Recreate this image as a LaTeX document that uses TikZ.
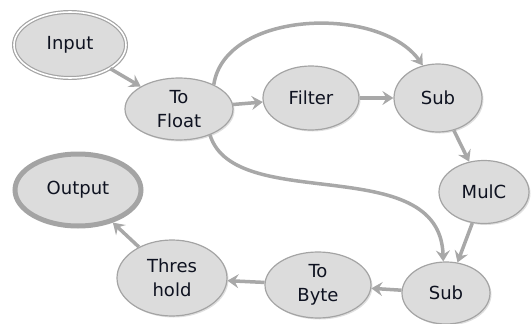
\documentclass[tikz,border=0pt]{standalone}
\usepackage{fontspec}
\setmainfont{DejaVu Sans}
\usetikzlibrary{shapes.geometric,arrows.meta,shadows}
\definecolor{nodefill}{HTML}{DCDCDC}
\definecolor{nodeline}{HTML}{A4A4A4}
\definecolor{edgecol}{HTML}{A8A8A8}
\definecolor{txt}{HTML}{0E1220}
\begin{document}
\begin{tikzpicture}[x=1pt,y=-1pt,
  nd/.style={ellipse,fill=nodefill,draw=nodeline,line width=1.2pt,inner sep=0pt,
    align=center,text=txt,font=\fontsize{18}{24}\selectfont,
    drop shadow={opacity=0.25,shadow xshift=1.5pt,shadow yshift=-1.5pt}},
  inbox/.style={nd,double=white,double distance=1.6pt,line width=1.2pt},
  outbox/.style={nd,line width=5pt},
  edge/.style={draw=edgecol,line width=3.5pt,-{Stealth[length=11pt,width=14pt,inset=4pt]}}
]
\useasboundingbox (0,0) rectangle (531,324);
\node[inbox,minimum width=112pt,minimum height=66pt] (input) at (70,45) {Input};
\node[nd,minimum width=108pt,minimum height=62pt] (tofloat) at (179,109) {To\\Float};
\node[nd,minimum width=96pt,minimum height=64pt] (filter) at (311,98) {Filter};
\node[nd,minimum width=88pt,minimum height=68pt] (sub1) at (438,98) {Sub};
\node[nd,minimum width=90pt,minimum height=63pt] (mulc) at (484,192) {MulC};
\node[nd,minimum width=88pt,minimum height=62pt] (sub2) at (446,293) {Sub};
\node[nd,minimum width=106pt,minimum height=66pt] (tobyte) at (318,285) {To\\Byte};
\node[nd,minimum width=110pt,minimum height=76pt] (thres) at (172,278) {Thres\\hold};
\node[outbox,minimum width=126pt,minimum height=72pt] (output) at (78,190) {Output};

\draw[edge] (input) -- (tofloat);
\draw[edge] (tofloat) -- (filter);
\draw[edge] (filter) -- (sub1);
\draw[edge] (sub1) -- (mulc);
\draw[edge] (mulc) -- (sub2);
\draw[edge] (sub2) -- (tobyte);
\draw[edge] (tobyte) -- (thres);
\draw[edge] (thres) -- (output);
\draw[edge] (tofloat.35) .. controls (225,10) and (380,5) .. (sub1.115);
\draw[edge] (tofloat.-40) .. controls (235,215) and (440,150) .. (sub2.95);
\end{tikzpicture}
\end{document}
